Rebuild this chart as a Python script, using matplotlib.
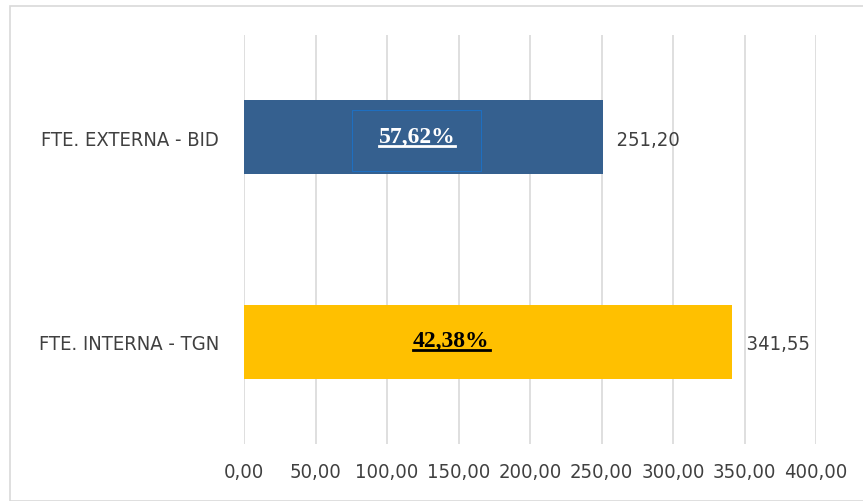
import matplotlib
matplotlib.use("Agg")
import matplotlib.pyplot as plt
from matplotlib.lines import Line2D

categories = ["FTE. INTERNA - TGN", "FTE. EXTERNA - BID"]
values = [341.55, 251.20]
value_labels = ["341,55", "251,20"]
colors = ["#FFC000", "#35608F"]
pct_labels = ["42,38%", "57,62%"]
pct_colors = ["black", "white"]
pct_pos = [145, 121]
ticks = [0, 50, 100, 150, 200, 250, 300, 350, 400]
tick_labels = ["0,00", "50,00", "100,00", "150,00", "200,00", "250,00", "300,00", "350,00", "400,00"]

lab_font = dict(family="DejaVu Sans", stretch="condensed", fontsize=14.5, color="#404040")

fig = plt.figure(figsize=(8.63, 5.02), dpi=100)
ax = fig.add_axes([244 / 863, 1 - 445 / 502, 572 / 863, 409 / 502])

ax.barh(range(len(categories)), values, height=0.36, color=colors, zorder=2)
ax.set_xlim(0, 400)
ax.set_ylim(-0.5, 1.5)
ax.set_xticks(ticks)
ax.set_xticklabels(tick_labels, **lab_font)
ax.set_yticks(range(len(categories)))
ax.set_yticklabels(categories, **lab_font)
ax.tick_params(length=0)
ax.tick_params(axis="x", pad=13)
ax.tick_params(axis="y", pad=18)
ax.grid(axis="x", color="#D9D9D9", linewidth=1.2, zorder=0)
for s in ax.spines.values():
    s.set_visible(False)

texts = []
for i, v in enumerate(values):
    ax.text(v + 1.5, i - 0.01, "  " + value_labels[i], va="center", ha="left", **lab_font)
    t = ax.text(pct_pos[i], i + 0.005, pct_labels[i], va="center", ha="center",
                family="Liberation Serif", fontweight="bold", fontsize=17,
                color=pct_colors[i], zorder=3)
    texts.append((t, pct_colors[i]))

# thin frame around the blue data label
ax.add_patch(plt.Rectangle((75.5, 1 - 0.165), 90, 0.30, fill=False,
                           ec="#1F6FC0", lw=0.8, zorder=3))

# underline the percentage labels
fig.canvas.draw()
r = fig.canvas.get_renderer()
for t, c in texts:
    bb = t.get_window_extent(renderer=r)
    y = bb.y0 + 1
    fig.add_artist(Line2D([bb.x0 / 863, bb.x1 / 863], [y / 502, y / 502],
                          color=c, linewidth=2))

# outer chart border
fig.add_artist(plt.Rectangle((10 / 863, 0), 1, 1 - 7 / 502, fill=False,
                             ec="#D9D9D9", lw=1.2, transform=fig.transFigure))

fig.savefig("out.png", dpi=100)
